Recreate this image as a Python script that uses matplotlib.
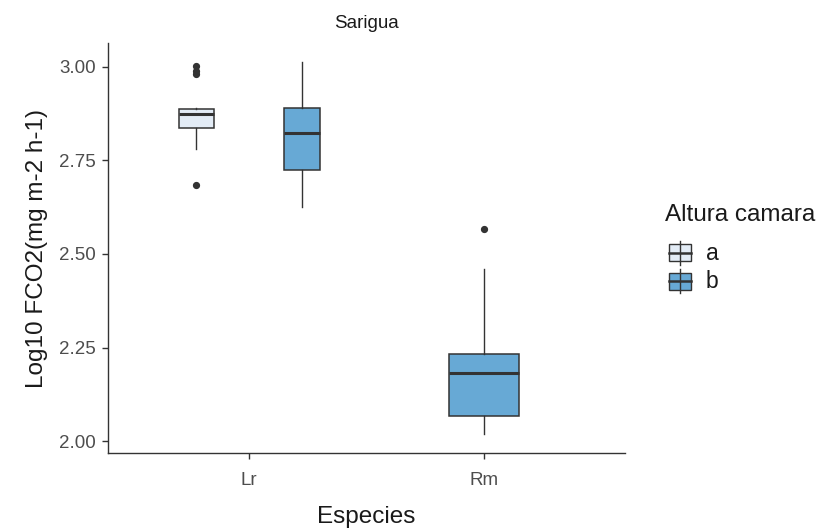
import matplotlib
matplotlib.use("Agg")
import matplotlib.pyplot as plt
from matplotlib.patches import Rectangle
from matplotlib.lines import Line2D

plt.rcParams['font.family'] = ['Liberation Sans', 'DejaVu Sans']

# Data: box statistics per species and chamber height
species = ["Lr", "Rm"]
groups = ["a", "b"]
group_colors = {"a": "#E3ECF6", "b": "#67A9D5"}

box_species = ["Lr", "Lr", "Rm"]
box_group = ["a", "b", "b"]
whislo = [2.781, 2.626, 2.019]
q1 = [2.836, 2.725, 2.067]
med = [2.874, 2.823, 2.181]
q3 = [2.887, 2.889, 2.232]
whishi = [2.889, 3.014, 2.459]
fliers = [[3.003, 2.990, 2.980, 2.685], [], [2.567]]

y_ticks = [2.00, 2.25, 2.50, 2.75, 3.00]

fig = plt.figure(figsize=(8.32, 5.31), dpi=100)
ax = fig.add_axes([108 / 832, 1 - 453 / 531, 517 / 832, 410 / 531])

dodge = 0.9
box_w = 0.3
for i, sp in enumerate(box_species):
    x0 = species.index(sp) + 1
    n_groups = box_species.count(sp)
    if n_groups > 1:
        k = [g for s, g in zip(box_species, box_group) if s == sp].index(box_group[i])
        pos = x0 + (k - (n_groups - 1) / 2) * dodge / n_groups
        w = box_w / n_groups
    else:
        pos = x0
        w = box_w
    stats = [dict(whislo=whislo[i], q1=q1[i], med=med[i], q3=q3[i],
                  whishi=whishi[i], fliers=fliers[i])]
    ax.bxp(stats, positions=[pos], widths=w, patch_artist=True,
           showcaps=False,
           boxprops=dict(facecolor=group_colors[box_group[i]], edgecolor="#333333", linewidth=1.1),
           medianprops=dict(color="#333333", linewidth=2.2),
           whiskerprops=dict(color="#333333", linewidth=1.0),
           flierprops=dict(marker="o", markerfacecolor="#333333", markeredgecolor="#333333",
                           markersize=4.2))

ax.set_xlim(0.4, 2.6)
ax.set_ylim(1.968, 3.064)
ax.set_xticks([1, 2])
ax.set_xticklabels(species)
ax.set_yticks(y_ticks)
ax.set_yticklabels([f"{v:.2f}" for v in y_ticks])
for side in ["top", "right"]:
    ax.spines[side].set_visible(False)
for side in ["left", "bottom"]:
    ax.spines[side].set_color("#333333")
    ax.spines[side].set_linewidth(1.0)
ax.tick_params(axis="both", colors="#333333", labelcolor="#4D4D4D", labelsize=13.5,
               length=4, width=1.0)
ax.tick_params(axis="x", pad=10)
ax.tick_params(axis="y", pad=5)
ax.set_xlabel("Especies", fontsize=17.5, color="#1A1A1A", labelpad=12)
ax.set_ylabel("Log10 FCO2(mg m-2 h-1)", fontsize=17.5, color="#1A1A1A", labelpad=8)
ax.set_title("Sarigua", fontsize=13.5, color="#1A1A1A", pad=11)

# Legend drawn as small boxplot glyphs
W, H = 832, 531
fig.text(665 / W, 1 - 215 / H, "Altura camara", fontsize=17.5, color="#1A1A1A",
         va="center", ha="left")
for j, g in enumerate(groups):
    yc = 253 + j * 28
    fig.add_artist(Line2D([680 / W, 680 / W], [1 - (yc - 12) / H, 1 - (yc + 12) / H],
                          color="#333333", linewidth=1.0, transform=fig.transFigure))
    fig.add_artist(Rectangle((669 / W, 1 - (yc + 8.5) / H), 22 / W, 17 / H,
                             facecolor=group_colors[g], edgecolor="#333333", linewidth=1.0,
                             transform=fig.transFigure))
    fig.add_artist(Line2D([669 / W, 691 / W], [1 - yc / H, 1 - yc / H],
                          color="#333333", linewidth=1.8, transform=fig.transFigure))
    fig.text(706 / W, 1 - yc / H, g, fontsize=16.5, color="#1A1A1A", va="center", ha="left")

fig.savefig("out.png", dpi=100)
